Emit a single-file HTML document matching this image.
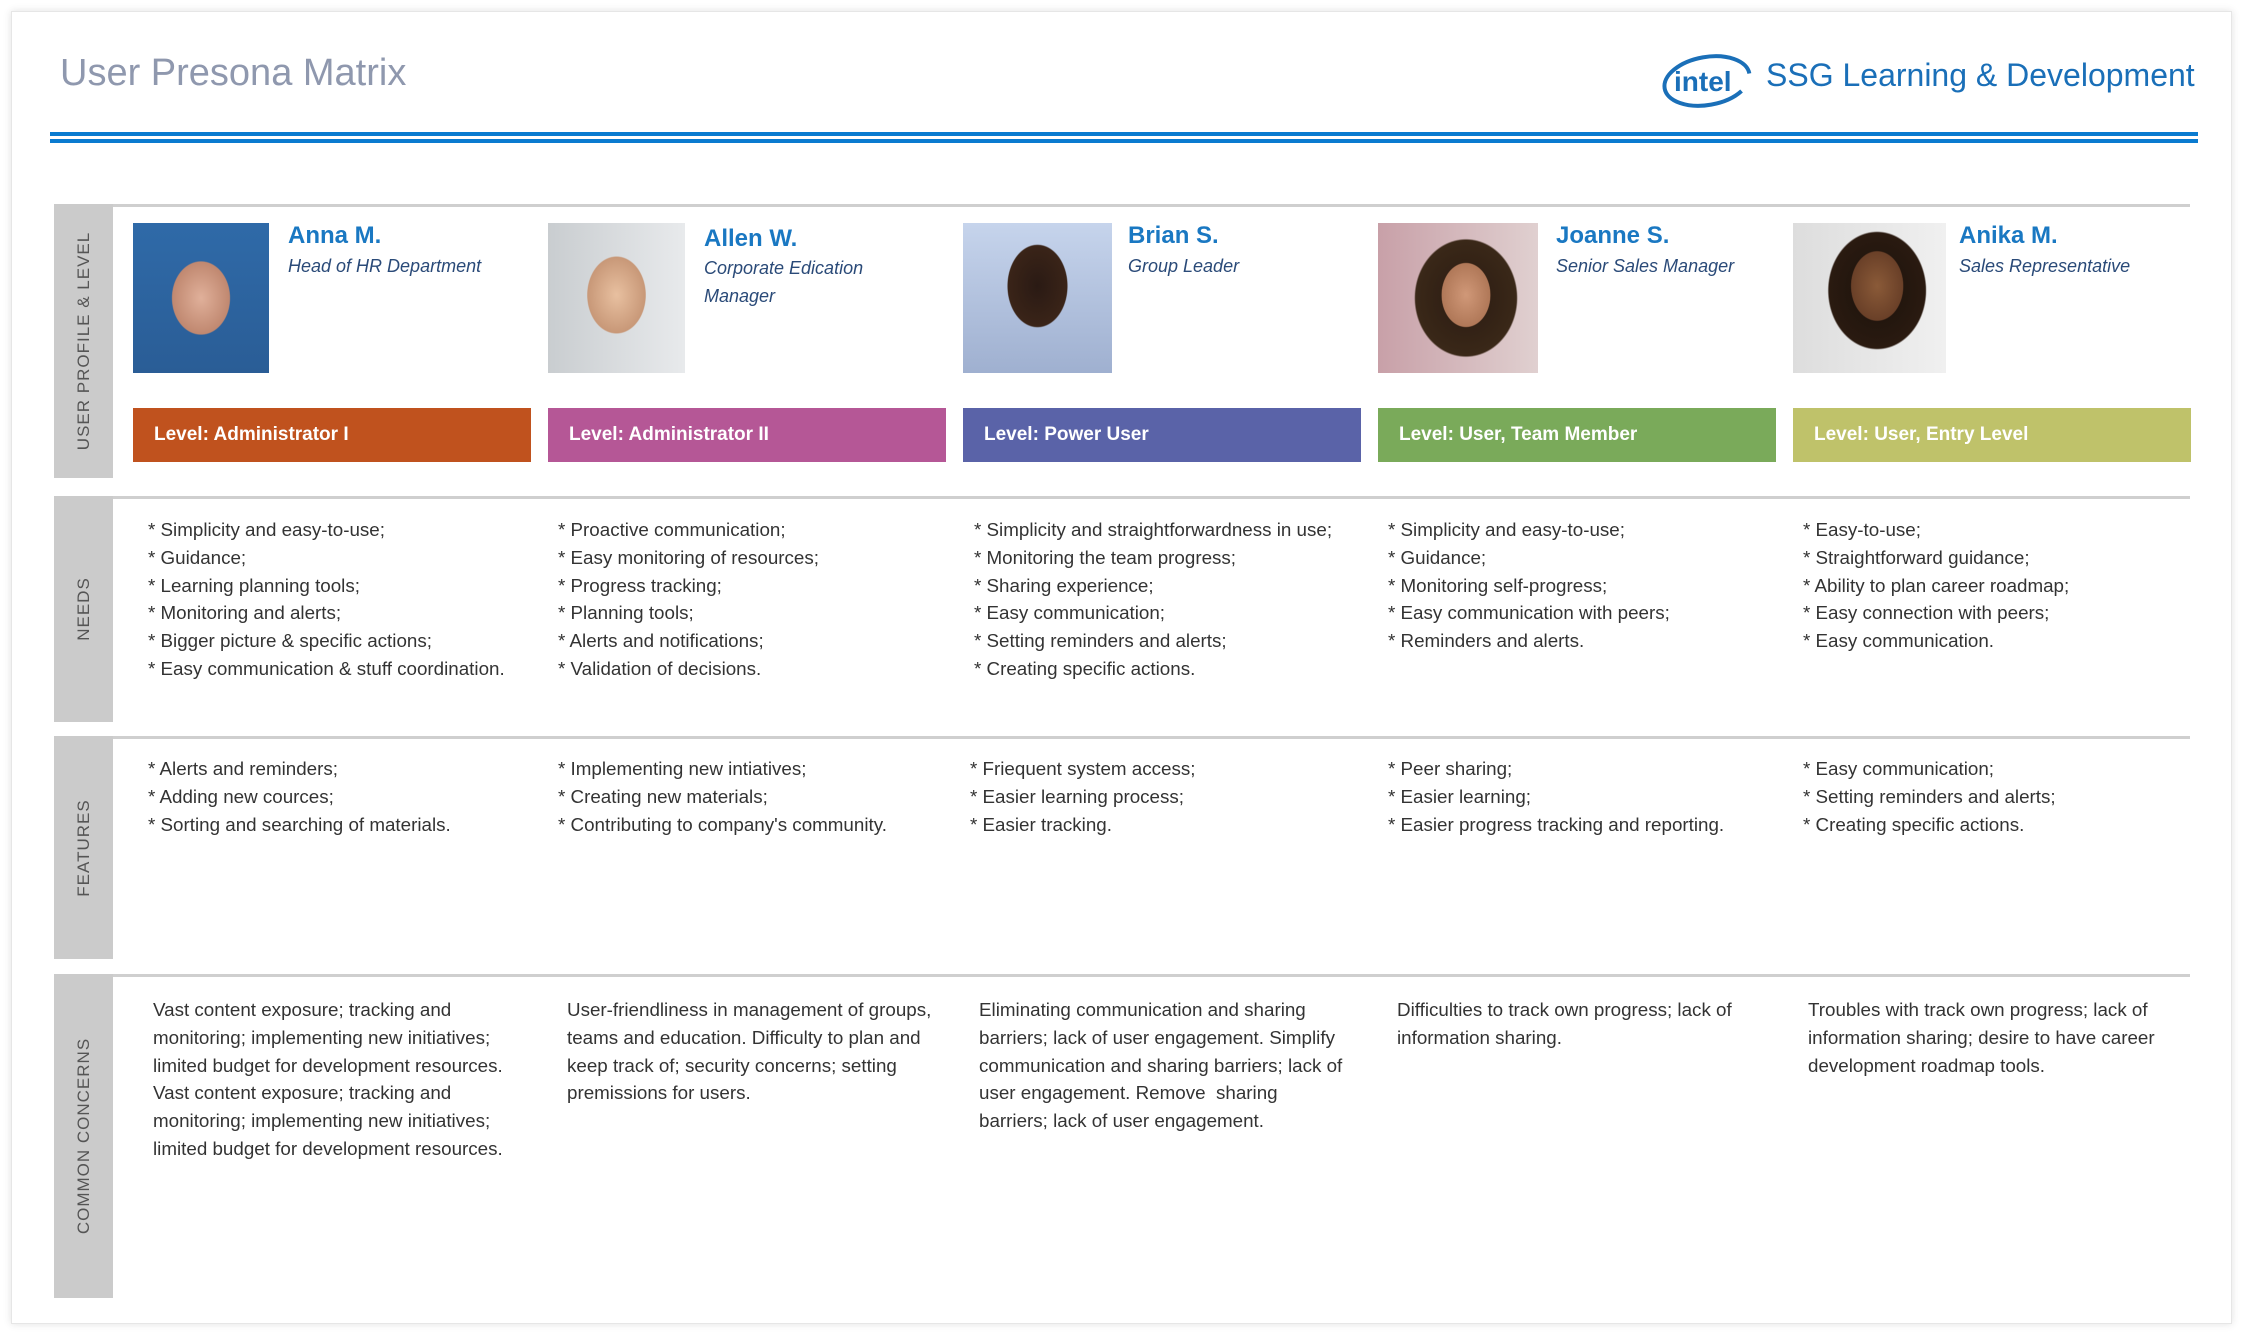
<!DOCTYPE html>
<html><head><meta charset="utf-8"><style>
*{margin:0;padding:0;box-sizing:border-box}
body{width:2244px;height:1338px;background:#fff;position:relative;font-family:"Liberation Sans",sans-serif;overflow:hidden}
.card{position:absolute;left:11px;top:11px;width:2221px;height:1313px;border:1px solid #e6e6e6;box-shadow:0 0 8px rgba(0,0,0,.12);background:#fff}
.a{position:absolute}
.hl{position:absolute;left:54px;width:2136px;height:3px;background:#cfcfcf}
.lab{position:absolute;left:54px;width:59px;background:#cbcbcb}
.lab span{position:absolute;left:50%;top:50%;transform:translate(-50%,-50%) rotate(-90deg);white-space:nowrap;font-size:17px;color:#555;letter-spacing:1px}
.bar{position:absolute;top:408px;height:54px;width:398px;color:#fff;font-weight:bold;font-size:19px;line-height:54px;padding-left:21px}
.name{position:absolute;top:222px;font-size:24px;font-weight:bold;color:#1a78c2}
.sub{position:absolute;top:252px;font-size:18px;font-style:italic;color:#2a4a78;line-height:28px}
.txt{position:absolute;font-size:18.8px;line-height:27.8px;color:#333;white-space:nowrap}
.ph{position:absolute;top:223px;height:150px}
</style></head><body>
<div class="card"></div>
<div class="a" style="left:60px;top:52px;font-size:38px;color:#8f98ae">User Presona Matrix</div>
<svg class="a" style="left:1660px;top:50px" width="100" height="60" viewBox="0 0 100 60"><ellipse cx="47" cy="31" rx="43" ry="24" fill="none" stroke="#1a6fb8" stroke-width="4" transform="rotate(-10 47 31)" stroke-dasharray="200 30" stroke-dashoffset="-20"/><text x="14" y="41" font-family="Liberation Sans" font-size="28" font-weight="bold" fill="#1a6fb8">intel</text></svg>
<div class="a" style="left:1766px;top:57px;font-size:32px;color:#1a6fb8">SSG Learning &amp; Development</div>
<div class="a" style="left:50px;top:132px;width:2148px;height:4px;background:#0a7bd0"></div>
<div class="a" style="left:50px;top:139px;width:2148px;height:4px;background:#0a7bd0"></div>

<div class="hl" style="top:204px"></div><div class="hl" style="top:496px"></div><div class="hl" style="top:736px"></div><div class="hl" style="top:974px"></div>
<div class="lab" style="top:204px;height:274px"><span>USER PROFILE &amp; LEVEL</span></div>
<div class="lab" style="top:496px;height:226px"><span>NEEDS</span></div>
<div class="lab" style="top:736px;height:223px"><span>FEATURES</span></div>
<div class="lab" style="top:974px;height:324px"><span>COMMON CONCERNS</span></div>

<div class="ph" style="left:133px;width:136px;background:radial-gradient(ellipse 35% 40% at 50% 50%,#e0b09a 0,#c08870 60%,transparent 62%),linear-gradient(#2f6aa8,#2a5d96)"></div>
<div class="ph" style="left:548px;width:137px;background:radial-gradient(ellipse 35% 42% at 50% 48%,#e8c0a0 0,#c89878 60%,transparent 62%),linear-gradient(90deg,#c9cdd0,#e8eaec)"></div>
<div class="ph" style="left:963px;width:149px;background:radial-gradient(ellipse 33% 45% at 50% 42%,#2a1a14 0,#3a2418 60%,transparent 62%),linear-gradient(#c6d4ec,#9fb0d0)"></div>
<div class="ph" style="left:1378px;width:160px;background:radial-gradient(ellipse 25% 35% at 55% 48%,#d09878 0,#b07858 60%,transparent 62%),radial-gradient(ellipse 45% 55% at 55% 50%,#2a1a12 0,#3a2818 70%,transparent 72%),linear-gradient(90deg,#c8a0a8,#e0d0d0)"></div>
<div class="ph" style="left:1793px;width:153px;background:radial-gradient(ellipse 28% 38% at 55% 42%,#8a5a38 0,#6a4028 60%,transparent 62%),radial-gradient(ellipse 45% 55% at 55% 45%,#1a120c 0,#2a1a10 70%,transparent 72%),linear-gradient(90deg,#ddd,#f0f0f0)"></div>

<div class="name" style="left:288px">Anna M.</div><div class="sub" style="left:288px">Head of HR Department</div>
<div class="name" style="left:704px;top:225px">Allen W.</div><div class="sub" style="left:704px;top:254px">Corporate Edication<br>Manager</div>
<div class="name" style="left:1128px">Brian S.</div><div class="sub" style="left:1128px">Group Leader</div>
<div class="name" style="left:1556px">Joanne S.</div><div class="sub" style="left:1556px">Senior Sales Manager</div>
<div class="name" style="left:1959px">Anika M.</div><div class="sub" style="left:1959px">Sales Representative</div>

<div class="bar" style="left:133px;background:#c0521e">Level: Administrator I</div>
<div class="bar" style="left:548px;background:#b55796">Level: Administrator II</div>
<div class="bar" style="left:963px;background:#5a63a8">Level: Power User</div>
<div class="bar" style="left:1378px;background:#7aaa5a">Level: User, Team Member</div>
<div class="bar" style="left:1793px;background:#bfc26a">Level: User, Entry Level</div>

<div class="txt" style="left:148px;top:516px">* Simplicity and easy-to-use;<br>* Guidance;<br>* Learning planning tools;<br>* Monitoring and alerts;<br>* Bigger picture &amp; specific actions;<br>* Easy communication &amp; stuff coordination.</div>
<div class="txt" style="left:558px;top:516px">* Proactive communication;<br>* Easy monitoring of resources;<br>* Progress tracking;<br>* Planning tools;<br>* Alerts and notifications;<br>* Validation of decisions.</div>
<div class="txt" style="left:974px;top:516px">* Simplicity and straightforwardness in use;<br>* Monitoring the team progress;<br>* Sharing experience;<br>* Easy communication;<br>* Setting reminders and alerts;<br>* Creating specific actions.</div>
<div class="txt" style="left:1388px;top:516px">* Simplicity and easy-to-use;<br>* Guidance;<br>* Monitoring self-progress;<br>* Easy communication with peers;<br>* Reminders and alerts.</div>
<div class="txt" style="left:1803px;top:516px">* Easy-to-use;<br>* Straightforward guidance;<br>* Ability to plan career roadmap;<br>* Easy connection with peers;<br>* Easy communication.</div>

<div class="txt" style="left:148px;top:755px">* Alerts and reminders;<br>* Adding new cources;<br>* Sorting and searching of materials.</div>
<div class="txt" style="left:558px;top:755px">* Implementing new intiatives;<br>* Creating new materials;<br>* Contributing to company's community.</div>
<div class="txt" style="left:970px;top:755px">* Friequent system access;<br>* Easier learning process;<br>* Easier tracking.</div>
<div class="txt" style="left:1388px;top:755px">* Peer sharing;<br>* Easier learning;<br>* Easier progress tracking and reporting.</div>
<div class="txt" style="left:1803px;top:755px">* Easy communication;<br>* Setting reminders and alerts;<br>* Creating specific actions.</div>

<div class="txt" style="left:153px;top:996px">Vast content exposure; tracking and<br>monitoring; implementing new initiatives;<br>limited budget for development resources.<br>Vast content exposure; tracking and<br>monitoring; implementing new initiatives;<br>limited budget for development resources.</div>
<div class="txt" style="left:567px;top:996px">User-friendliness in management of groups,<br>teams and education. Difficulty to plan and<br>keep track of; security concerns; setting<br>premissions for users.</div>
<div class="txt" style="left:979px;top:996px">Eliminating communication and sharing<br>barriers; lack of user engagement. Simplify<br>communication and sharing barriers; lack of<br>user engagement. Remove&nbsp; sharing<br>barriers; lack of user engagement.</div>
<div class="txt" style="left:1397px;top:996px">Difficulties to track own progress; lack of<br>information sharing.</div>
<div class="txt" style="left:1808px;top:996px">Troubles with track own progress; lack of<br>information sharing; desire to have career<br>development roadmap tools.</div>
</body></html>
